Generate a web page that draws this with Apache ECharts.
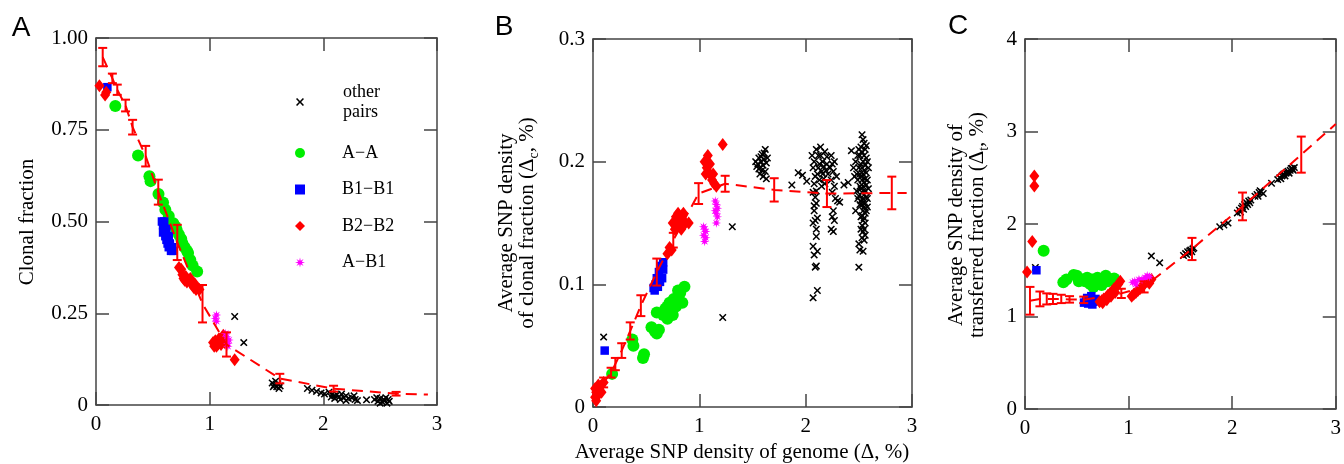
<!DOCTYPE html>
<html><head><meta charset="utf-8">
<script src="https://cdn.jsdelivr.net/npm/echarts@6/dist/echarts.min.js"></script>
<style>html,body{margin:0;padding:0;background:#fff}#c{width:1344px;height:464px}</style>
</head><body><div id="c"></div>
<script>
// ---------- tick labels ----------
const xTicks = [0, 1, 2, 3];
const yTicksA = [0, 0.25, 0.5, 0.75, 1];
const yTicksB = [0, 0.1, 0.2, 0.3];
const yTicksC = [0, 1, 2, 3, 4];
const legendNames = ['other pairs', 'A\u2212A', 'B1\u2212B1', 'B2\u2212B2', 'A\u2212B1'];

// ---------- Panel A: clonal fraction ----------
const A_other = [[1.22,0.241],[1.30,0.17],[1.55,0.06],[1.56,0.05],[1.57,0.055],[1.58,0.065],[1.59,0.05],[1.60,0.058],[1.61,0.045],[1.62,0.052],[1.86,0.045],[1.90,0.04],[1.94,0.037],[1.98,0.033],[2.01,0.03],[2.05,0.035],[2.07,0.022],[2.08,0.03],[2.10,0.025],[2.10,0.018],[2.12,0.028],[2.14,0.022],[2.15,0.015],[2.16,0.03],[2.18,0.02],[2.20,0.025],[2.20,0.012],[2.22,0.018],[2.25,0.02],[2.27,0.025],[2.28,0.015],[2.30,0.012],[2.38,0.014],[2.45,0.015],[2.47,0.02],[2.48,0.01],[2.50,0.018],[2.50,0.005],[2.52,0.008],[2.53,0.015],[2.54,0.012],[2.55,0.02],[2.56,0.005],[2.57,0.015],[2.58,0.01]];
const A_AA = [[0.17,0.815],[0.37,0.68],[0.47,0.623],[0.48,0.61],[0.55,0.575],[0.59,0.552],[0.61,0.532],[0.64,0.515],[0.68,0.495],[0.70,0.486],[0.71,0.477],[0.73,0.464],[0.75,0.452],[0.76,0.441],[0.78,0.43],[0.80,0.42],[0.81,0.414],[0.83,0.395],[0.85,0.38],[0.89,0.364]];
const A_B1B1 = [[0.10,0.866],[0.58,0.50],[0.59,0.49],[0.60,0.475],[0.61,0.46],[0.62,0.45],[0.63,0.44],[0.64,0.43],[0.66,0.42],[0.68,0.42],[0.60,0.50],[0.62,0.48],[0.64,0.46],[0.65,0.44],[0.67,0.43],[0.59,0.47]];
const A_B2B2 = [[0.03,0.87],[0.08,0.845],[0.09,0.852],[0.73,0.375],[0.75,0.37],[0.76,0.355],[0.77,0.345],[0.78,0.34],[0.79,0.35],[0.80,0.335],[0.82,0.34],[0.83,0.345],[0.84,0.33],[0.86,0.32],[0.87,0.33],[0.88,0.315],[0.91,0.315],[1.03,0.17],[1.04,0.16],[1.05,0.175],[1.06,0.16],[1.07,0.165],[1.08,0.18],[1.09,0.18],[1.10,0.165],[1.11,0.175],[1.12,0.19],[1.13,0.17],[1.22,0.123]];
const A_AB1 = [[1.05,0.236],[1.06,0.228],[1.06,0.245],[1.14,0.195],[1.15,0.186],[1.16,0.168],[1.16,0.16],[1.17,0.177]];
const errA_x = [0.059,0.144,0.187,0.26,0.322,0.437,0.548,0.715,0.937,1.148,1.617,2.09,2.64];
const errA_y = [0.948,0.89,0.859,0.816,0.757,0.678,0.58,0.443,0.276,0.165,0.072,0.0445,0.0307];
const errA_e = [0.025,0.013,0.014,0.016,0.02,0.028,0.034,0.048,0.051,0.033,0.013,0.008,0.005];
const fitA = [[0.059,0.948],[0.144,0.89],[0.187,0.859],[0.26,0.816],[0.322,0.757],[0.437,0.678],[0.548,0.58],[0.715,0.443],[0.937,0.276],[1.148,0.165],[1.617,0.072],[2.09,0.0445],[2.64,0.0307],[2.92,0.0285]];

// ---------- Panel B: SNP density of clonal fraction ----------
const B_other = [[0.10,0.057],[1.22,0.073],[1.31,0.147],
 [1.53,0.200],[1.55,0.198],[1.56,0.203],[1.57,0.195],[1.58,0.200],[1.59,0.206],[1.60,0.197],[1.61,0.202],[1.62,0.192],[1.63,0.199],[1.60,0.188],[1.62,0.210],[1.57,0.190],[1.64,0.203],[1.54,0.196],[1.59,0.193],[1.61,0.207],[1.56,0.194],[1.63,0.186],[1.58,0.204],
 [1.87,0.181],[1.93,0.191],[1.97,0.189],[2.01,0.184],
 [2.06,0.205],[2.08,0.2],[2.10,0.21],[2.12,0.195],[2.14,0.205],[2.16,0.2],[2.18,0.208],[2.20,0.198],[2.11,0.19],[2.13,0.185],[2.15,0.192],[2.17,0.186],[2.19,0.193],[2.07,0.195],[2.09,0.188],[2.12,0.205],[2.14,0.212],[2.16,0.19],[2.18,0.182],[2.20,0.204],[2.08,0.182],[2.10,0.176],[2.13,0.198],[2.15,0.18],[2.17,0.196],[2.07,0.175],[2.21,0.19],
 [2.09,0.171],[2.08,0.164],[2.10,0.166],[2.09,0.152],[2.11,0.154],[2.07,0.150],[2.10,0.139],[2.07,0.131],[2.11,0.127],[2.08,0.124],[2.09,0.114],[2.10,0.115],[2.11,0.095],[2.07,0.089],[2.08,0.160],[2.10,0.145],
 [2.24,0.205],[2.25,0.198],[2.26,0.192],[2.24,0.185],[2.27,0.180],[2.25,0.175],[2.28,0.170],[2.26,0.160],[2.25,0.155],[2.27,0.152],[2.24,0.145],[2.26,0.143],[2.30,0.168],[2.29,0.188],[2.23,0.195],[2.27,0.200],[2.32,0.167],
 [2.36,0.181],[2.40,0.183],[2.43,0.209],[2.45,0.195],[2.47,0.2],[2.46,0.188],[2.48,0.176],[2.49,0.17],[2.47,0.16],
 [2.53,0.222],[2.54,0.218],[2.55,0.215],[2.52,0.212],[2.56,0.21],[2.53,0.208],[2.55,0.205],[2.57,0.203],[2.54,0.2],[2.52,0.198],[2.56,0.197],[2.53,0.195],[2.55,0.193],[2.57,0.191],[2.54,0.19],[2.52,0.188],[2.56,0.186],[2.53,0.185],[2.55,0.183],[2.57,0.181],[2.54,0.18],[2.52,0.178],[2.56,0.176],[2.53,0.175],[2.55,0.173],[2.57,0.171],[2.54,0.17],[2.52,0.168],[2.56,0.166],[2.53,0.165],[2.55,0.163],[2.54,0.16],[2.56,0.158],[2.53,0.156],[2.55,0.154],[2.54,0.152],[2.56,0.15],[2.53,0.148],[2.55,0.145],[2.54,0.143],[2.56,0.14],[2.53,0.138],[2.55,0.136],[2.51,0.205],[2.50,0.195],[2.58,0.2],[2.58,0.185],[2.51,0.18],[2.50,0.21],[2.58,0.17],[2.51,0.165],[2.57,0.16],[2.52,0.155],[2.50,0.133],[2.54,0.127],[2.51,0.128],[2.50,0.114],[2.49,0.205],[2.48,0.19],
 [2.59,0.195],[2.59,0.178],[2.58,0.163],[2.49,0.185],[2.50,0.172],[2.51,0.19],[2.57,0.213],[2.52,0.145]];
const B_AA = [[0.18,0.027],[0.37,0.055],[0.38,0.05],[0.47,0.04],[0.48,0.043],[0.55,0.065],[0.58,0.062],[0.60,0.06],[0.62,0.063],[0.60,0.077],[0.66,0.075],[0.68,0.08],[0.70,0.072],[0.70,0.082],[0.72,0.085],[0.74,0.08],[0.75,0.075],[0.76,0.088],[0.78,0.082],[0.80,0.09],[0.80,0.095],[0.82,0.093],[0.84,0.085],[0.86,0.098]];
const B_B1B1 = [[0.11,0.046],[0.57,0.097],[0.58,0.095],[0.59,0.10],[0.60,0.105],[0.61,0.098],[0.62,0.11],[0.63,0.102],[0.64,0.115],[0.65,0.105],[0.66,0.112],[0.66,0.118]];
const B_B2B2 = [[0.02,0.008],[0.02,0.015],[0.03,0.005],[0.03,0.012],[0.04,0.015],[0.05,0.01],[0.05,0.018],[0.06,0.014],[0.07,0.017],[0.08,0.012],[0.10,0.02],[0.70,0.125],[0.72,0.13],[0.74,0.128],[0.75,0.15],[0.77,0.145],[0.78,0.155],[0.80,0.148],[0.80,0.158],[0.82,0.152],[0.83,0.145],[0.85,0.158],[0.87,0.15],[0.90,0.15],[1.05,0.20],[1.06,0.19],[1.07,0.195],[1.08,0.205],[1.10,0.19],[1.10,0.198],[1.12,0.185],[1.13,0.19],[1.14,0.182],[1.16,0.18],[1.22,0.214]];
const B_AB1 = [[1.04,0.14],[1.04,0.147],[1.05,0.145],[1.05,0.135],[1.06,0.138],[1.06,0.143],[1.15,0.16],[1.15,0.168],[1.16,0.165],[1.16,0.15],[1.16,0.158],[1.17,0.155],[1.17,0.162]];
const errB_x = [0.10,0.17,0.21,0.27,0.35,0.45,0.60,0.755,0.993,1.243,1.704,2.20,2.81];
const errB_y = [0.020,0.028,0.035,0.046,0.062,0.0826,0.110,0.136,0.174,0.182,0.177,0.174,0.1745];
const errB_e = [0.004,0.004,0.005,0.006,0.007,0.0085,0.011,0.006,0.0085,0.0065,0.0095,0.011,0.0133];
const fitB = [[0.02,0.006],[0.10,0.020],[0.17,0.028],[0.21,0.035],[0.27,0.046],[0.35,0.062],[0.45,0.0826],[0.60,0.110],[0.755,0.136],[0.993,0.174],[1.243,0.182],[1.704,0.177],[2.20,0.174],[2.81,0.1745],[2.95,0.1745]];

// ---------- Panel C: SNP density of transferred fraction ----------
const C_other = [[0.10,1.53],[1.22,1.655],[1.30,1.58],[1.53,1.66],[1.55,1.68],[1.56,1.67],[1.57,1.70],[1.58,1.69],[1.59,1.71],[1.60,1.72],[1.61,1.70],[1.62,1.73],[1.63,1.74],[1.88,1.97],[1.92,1.99],[1.96,2.01],[2.05,2.12],[2.07,2.15],[2.08,2.13],[2.09,2.17],[2.10,2.19],[2.11,2.16],[2.12,2.21],[2.13,2.19],[2.14,2.23],[2.15,2.21],[2.16,2.25],[2.17,2.23],[2.18,2.26],[2.22,2.30],[2.24,2.32],[2.25,2.30],[2.26,2.34],[2.27,2.36],[2.28,2.35],[2.30,2.33],[2.38,2.44],[2.44,2.48],[2.46,2.50],[2.47,2.49],[2.48,2.52],[2.49,2.53],[2.50,2.54],[2.51,2.52],[2.52,2.55],[2.53,2.56],[2.54,2.57],[2.55,2.55],[2.56,2.58],[2.57,2.60],[2.58,2.60],[2.59,2.58],[2.60,2.61]];
const C_AA = [[0.18,1.71],[0.37,1.37],[0.40,1.40],[0.47,1.45],[0.50,1.44],[0.52,1.38],[0.55,1.40],[0.58,1.38],[0.60,1.42],[0.63,1.35],[0.65,1.40],[0.66,1.32],[0.68,1.37],[0.70,1.42],[0.72,1.38],[0.74,1.34],[0.75,1.40],[0.78,1.44],[0.80,1.38],[0.83,1.40],[0.86,1.41]];
const C_B1B1 = [[0.11,1.50],[0.57,1.15],[0.59,1.17],[0.60,1.20],[0.61,1.14],[0.62,1.18],[0.64,1.22],[0.65,1.13],[0.66,1.16],[0.68,1.19]];
const C_B2B2 = [[0.02,1.48],[0.07,1.81],[0.09,2.41],[0.09,2.52],[0.72,1.16],[0.74,1.17],[0.75,1.15],[0.76,1.19],[0.78,1.2],[0.79,1.18],[0.80,1.23],[0.82,1.25],[0.83,1.22],[0.84,1.27],[0.86,1.30],[0.87,1.26],[0.88,1.32],[0.90,1.35],[0.92,1.38],[1.03,1.22],[1.05,1.24],[1.07,1.26],[1.09,1.28],[1.11,1.30],[1.13,1.32],[1.15,1.35],[1.18,1.38],[1.20,1.36],[1.22,1.40]];
const C_AB1 = [[1.04,1.37],[1.06,1.38],[1.07,1.35],[1.10,1.40],[1.13,1.40],[1.16,1.42],[1.18,1.44],[1.20,1.43]];
const errC_x = [0.048,0.144,0.21,0.27,0.35,0.43,0.567,0.93,1.15,1.612,2.10,2.667];
const errC_y = [1.17,1.19,1.19,1.19,1.19,1.185,1.18,1.25,1.32,1.73,2.19,2.75];
const errC_e = [0.15,0.08,0.06,0.055,0.045,0.035,0.035,0.05,0.06,0.12,0.15,0.195];
const fitC = [[0.048,1.17],[0.144,1.19],[0.21,1.19],[0.27,1.19],[0.35,1.19],[0.43,1.185],[0.567,1.18],[0.93,1.25],[1.15,1.32],[1.612,1.73],[2.10,2.19],[2.667,2.75],[3.0,3.08]];

// ---------- styling ----------
const SERIF = 'Liberation Serif';
const AX = '#444';
const RED = '#ff0000';
const GREEN = '#00ee00';
const BLUE = '#0000ff';
const MAGENTA = '#ff00ff';
const crossPath = 'path://M0,1.4L1.4,0L5,3.6L8.6,0L10,1.4L6.4,5L10,8.6L8.6,10L5,6.4L1.4,10L0,8.6L3.6,5Z';
const starPath = 'path://M10,5L6.85,5.77L8.54,8.54L5.77,6.85L5,10L4.23,6.85L1.46,8.54L3.15,5.77L0,5L3.15,4.23L1.46,1.46L4.23,3.15L5,0L5.77,3.15L8.54,1.46L6.85,4.23Z';

const grids = [
  {left: 96, top: 38, width: 341, height: 367},
  {left: 593, top: 39, width: 319, height: 368},
  {left: 1025, top: 39, width: 312, height: 370}
];
const yRanges = [yTicksA, yTicksB, yTicksC];
const yFmt = [v => v === 0 ? '0' : v.toFixed(2), v => v === 0 ? '0' : v.toFixed(1), v => String(v)];

const xAxis = [], yAxis = [];
grids.forEach((g, i) => {
  const line = {show: true, onZero: false, lineStyle: {color: AX, width: 1.5}};
  const tick = {show: true, inside: true, length: 13, lineStyle: {color: AX, width: 1.5}};
  ['bottom', 'top'].forEach(pos => xAxis.push({
    gridIndex: i, type: 'value', position: pos, min: xTicks[0], max: xTicks[xTicks.length - 1], interval: 1,
    axisLine: line, axisTick: tick, splitLine: {show: false},
    axisLabel: {show: pos === 'bottom', fontFamily: SERIF, fontSize: 21, color: '#000', margin: 9}
  }));
  const yt = yRanges[i];
  ['left', 'right'].forEach(pos => yAxis.push({
    gridIndex: i, type: 'value', position: pos, min: yt[0], max: yt[yt.length - 1], interval: yt[1] - yt[0],
    axisLine: line, axisTick: tick, splitLine: {show: false},
    axisLabel: {show: pos === 'left', fontFamily: SERIF, fontSize: 21, color: '#000', margin: 8, formatter: yFmt[i]}
  }));
});

function scat(name, data, gi, symbol, size, color) {
  return {type: 'scatter', name, data, xAxisIndex: gi * 2, yAxisIndex: gi * 2, symbol, symbolSize: size,
    itemStyle: {color, opacity: 1}, emphasis: {disabled: true}, z: 2, animation: false};
}
function fit(data, gi) {
  return {type: 'line', data, xAxisIndex: gi * 2, yAxisIndex: gi * 2, symbol: 'none', silent: true, z: 3,
    lineStyle: {color: RED, width: 2, type: [11, 7]}, animation: false};
}
function errBars(xs, ys, es, gi) {
  const data = xs.map((x, k) => [x, ys[k] - es[k], ys[k] + es[k]]);
  return {type: 'custom', data, xAxisIndex: gi * 2, yAxisIndex: gi * 2, z: 4, silent: true, animation: false,
    encode: {x: 0, y: [1, 2]},
    renderItem: (params, api) => {
      const lo = api.coord([api.value(0), api.value(1)]);
      const hi = api.coord([api.value(0), api.value(2)]);
      const w = 4.5, st = {stroke: RED, lineWidth: 2};
      return {type: 'group', children: [
        {type: 'line', shape: {x1: lo[0], y1: lo[1], x2: hi[0], y2: hi[1]}, style: st},
        {type: 'line', shape: {x1: lo[0] - w, y1: lo[1], x2: lo[0] + w, y2: lo[1]}, style: st},
        {type: 'line', shape: {x1: hi[0] - w, y1: hi[1], x2: hi[0] + w, y2: hi[1]}, style: st}
      ]};
    }};
}

const panels = [
  [A_other, A_AA, A_B1B1, A_B2B2, A_AB1, errA_x, errA_y, errA_e, fitA],
  [B_other, B_AA, B_B1B1, B_B2B2, B_AB1, errB_x, errB_y, errB_e, fitB],
  [C_other, C_AA, C_B1B1, C_B2B2, C_AB1, errC_x, errC_y, errC_e, fitC]
];
const series = [];
panels.forEach((p, gi) => {
  series.push(scat(legendNames[0], p[0], gi, crossPath, 7.5, '#000'));
  series.push(scat(legendNames[1], p[1], gi, 'circle', 12, GREEN));
  series.push(scat(legendNames[2], p[2], gi, 'rect', 8.5, BLUE));
  series.push(scat(legendNames[3], p[3], gi, 'diamond', [10, 13], RED));
  series.push(scat(legendNames[4], p[4], gi, starPath, 9.5, MAGENTA));
  series.push(fit(p[8], gi));
  series.push(errBars(p[5], p[6], p[7], gi));
});

const legText1 = {fontFamily: SERIF, fontSize: 18, color: '#000', lineHeight: 20, padding: [0, 0, 0, 34]};
const legText2 = {fontFamily: SERIF, fontSize: 18, color: '#000', lineHeight: 20, padding: [0, 0, 0, 32]};
const titleFont = {fontFamily: SERIF, fontSize: 21, fill: '#000'};
const sub = {fontFamily: SERIF, fontSize: 14, lineHeight: 14, verticalAlign: 'bottom', color: '#000'};
const l1 = {fontFamily: SERIF, fontSize: 21, lineHeight: 15, verticalAlign: 'middle', color: '#000'};
const l2 = {fontFamily: SERIF, fontSize: 21, lineHeight: 27, verticalAlign: 'middle', color: '#000'};

const option = {
  backgroundColor: '#fff',
  animation: false,
  grid: grids,
  xAxis, yAxis, series,
  legend: [
    {data: [legendNames[0]], left: 296, top: 82, orient: 'vertical', padding: 0, itemWidth: 8, itemHeight: 8,
     formatter: () => 'other\npairs', textStyle: legText1, selectedMode: false},
    {data: legendNames.slice(1), left: 295, top: 143, orient: 'vertical', padding: 0, itemWidth: 10, itemHeight: 10,
     itemGap: 16.5, textStyle: legText2, selectedMode: false}
  ],
  graphic: [
    {type: 'text', x: 21, y: 28, style: {text: 'A', fontFamily: 'Liberation Sans', fontSize: 28, fill: '#000', textAlign: 'center', textVerticalAlign: 'middle'}},
    {type: 'text', x: 504, y: 27, style: {text: 'B', fontFamily: 'Liberation Sans', fontSize: 28, fill: '#000', textAlign: 'center', textVerticalAlign: 'middle'}},
    {type: 'text', x: 958, y: 26, style: {text: 'C', fontFamily: 'Liberation Sans', fontSize: 28, fill: '#000', textAlign: 'center', textVerticalAlign: 'middle'}},
    {type: 'text', x: 27, y: 222, rotation: Math.PI / 2, style: Object.assign({text: 'Clonal fraction', textAlign: 'center', textVerticalAlign: 'middle'}, titleFont)},
    {type: 'text', x: 520, y: 223, rotation: Math.PI / 2, style: {
      text: '{a|Average SNP density}\n{n|of clonal fraction (\u0394}{s|c}{n|, %)}',
      rich: {a: l1, n: l2, s: sub}, textAlign: 'center', textVerticalAlign: 'middle'}},
    {type: 'text', x: 970, y: 225, rotation: Math.PI / 2, style: {
      text: '{a|Average SNP density of}\n{n|transferred fraction (\u0394}{s|t}{n|, %)}',
      rich: {a: l1, n: l2, s: sub}, textAlign: 'center', textVerticalAlign: 'middle'}},
    {type: 'text', x: 742, y: 452, style: Object.assign({text: 'Average SNP density of genome (\u0394, %)', textAlign: 'center', textVerticalAlign: 'middle'}, titleFont)}
  ]
};
const chart = echarts.init(document.getElementById('c'), null, {renderer: 'canvas'});
chart.setOption(option);
</script>
</body></html>
